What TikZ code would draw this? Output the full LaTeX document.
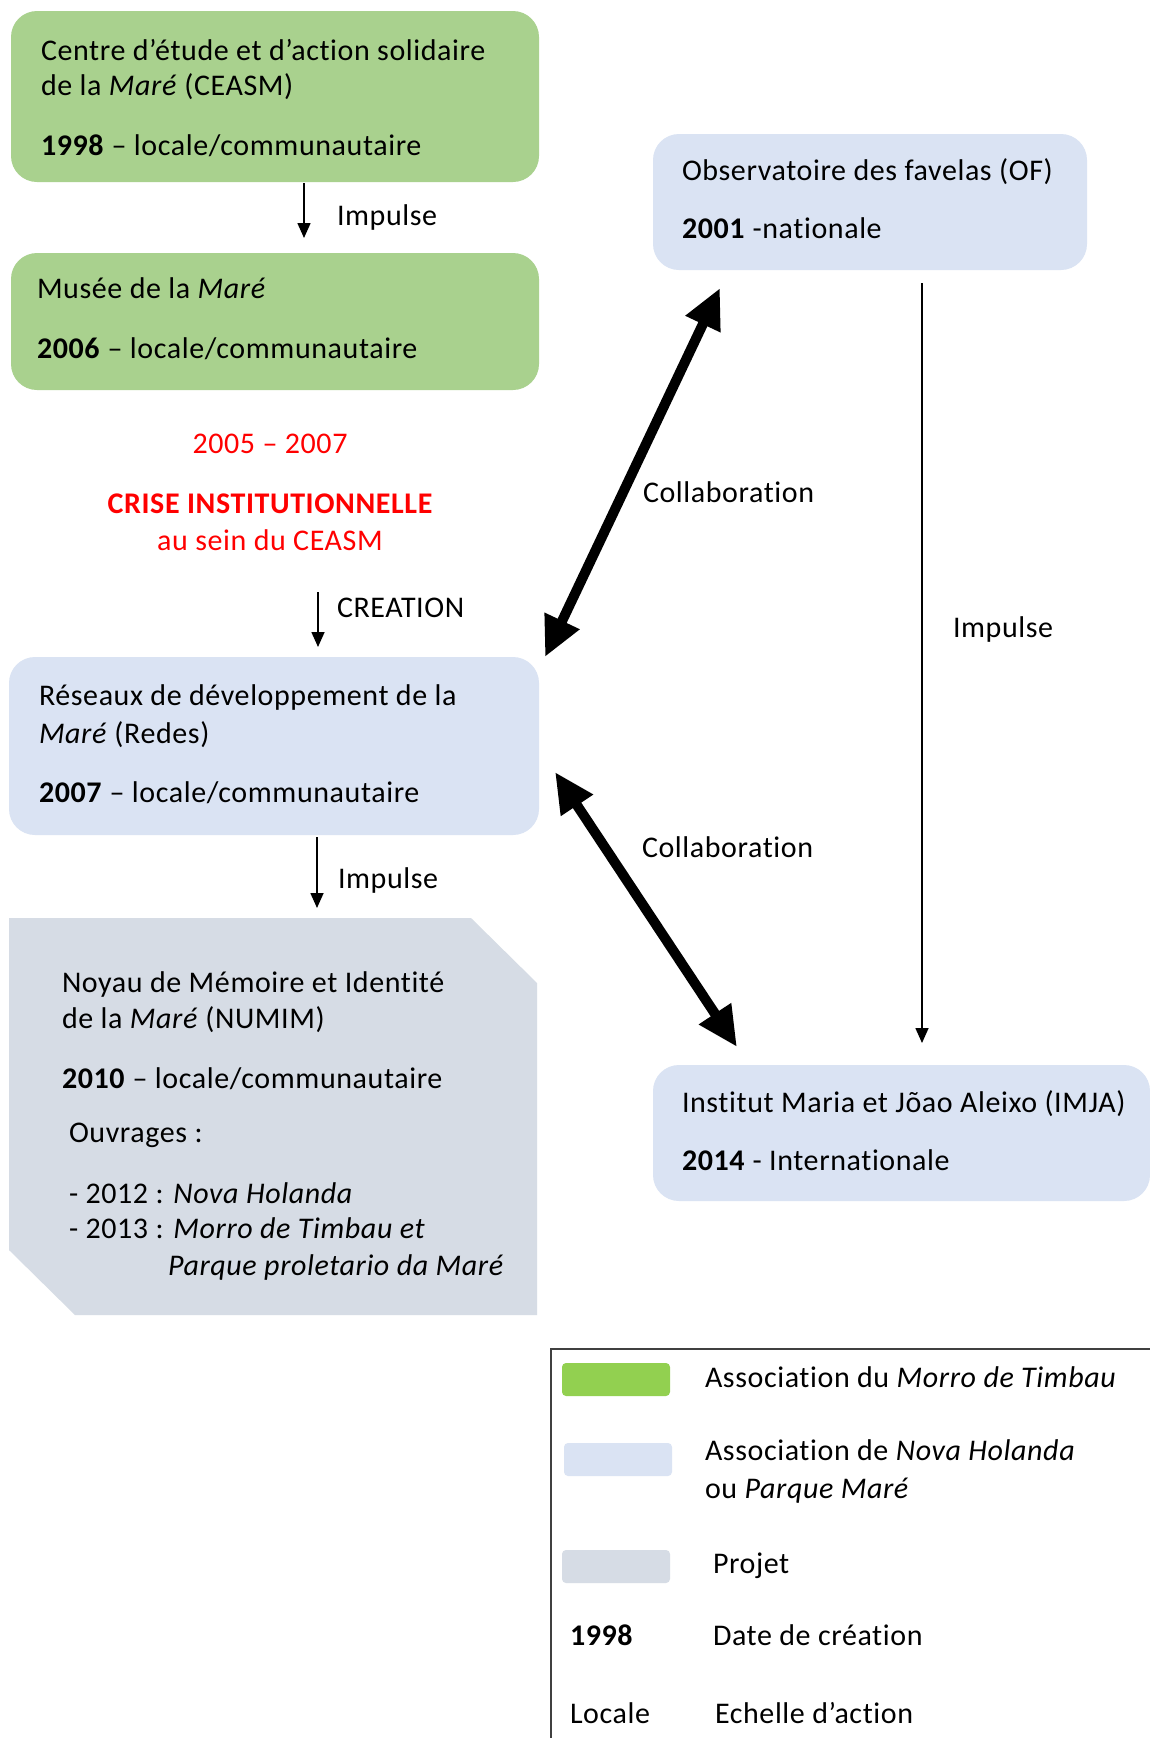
\documentclass[tikz,border=0pt]{standalone}
\usepackage{fontspec}
\setmainfont{Carlito}[LetterSpace=2, Ligatures=NoCommon]
\usetikzlibrary{arrows.meta,calc}
\definecolor{boxgreen}{HTML}{A9D18E}
\definecolor{boxblue}{HTML}{DAE3F3}
\definecolor{boxgray}{HTML}{D6DCE5}
\definecolor{swgreen}{HTML}{92D050}
\definecolor{legline}{HTML}{404040}
\tikzset{
  lbl/.style={font=\fontsize{30}{35}\selectfont, inner sep=0pt, outer sep=0pt},
  txt/.style={lbl, anchor=base west},
  redtxt/.style={lbl, anchor=base, text=red},
  boxbase/.style={inner sep=0pt, outer sep=0pt, anchor=north west, rounded corners=26pt},
  gbox/.style={boxbase, fill=boxgreen},
  bbox/.style={boxbase, fill=boxblue},
  swatch/.style={inner sep=0pt, outer sep=0pt, anchor=north west, rounded corners=4pt, minimum width=108pt, minimum height=33pt},
  thinarrow/.style={-{Triangle[length=15pt,width=13pt]}, line width=1.6pt},
  bigarrow/.style={{Triangle[length=40pt,width=36pt]}-{Triangle[length=40pt,width=36pt]}, line width=10pt},
}
\begin{document}
\begin{tikzpicture}[x=1pt,y=-1pt]
\useasboundingbox (0,0) rectangle (1150,1738);
\fill[white] (0,0) rectangle (1150,1738);

% boxes
\node[gbox, minimum width=528pt, minimum height=171pt] (ceasm) at (11,11) {};
\node[gbox, minimum width=528pt, minimum height=137pt] (musee) at (11,253) {};
\node[bbox, minimum width=530pt, minimum height=178pt] (redes) at (9,657) {};
\node[bbox, minimum width=434pt, minimum height=136pt] (of) at (653,134) {};
\node[bbox, minimum width=497pt, minimum height=136pt] (imja) at (653,1065) {};
\node[inner sep=0pt, outer sep=0pt, anchor=north west,
      minimum width=528pt, minimum height=397pt] (numim) at (9,918) {};
\fill[boxgray] (numim.north west) -- ($(numim.north east)+(-66,0)$)
  -- ($(numim.north east)+(0,65)$) -- (numim.south east)
  -- ($(numim.south west)+(66,0)$) -- ($(numim.south west)+(0,-65)$) -- cycle;

% CEASM text
\node[txt] (t1) at (41,60) {Centre d’étude et d’action solidaire};
\node[txt] (t2) at (41,95) {de la \textit{Maré} (CEASM)};
\node[txt] (t3) at (41,155) {\textbf{1998} – locale/communautaire};
% Musee text
\node[txt] (t4) at (37,298) {Musée de la \textit{Maré}};
\node[txt] (t5) at (37,358) {\textbf{2006} – locale/communautaire};
% crisis
\node[redtxt] (r1) at (270,453) {2005 – 2007};
\node[redtxt, font=\fontsize{30}{35}\selectfont\bfseries] (r2) at (270,513) {CRISE INSTITUTIONNELLE};
\node[redtxt] (r3) at (270,550) {au sein du CEASM};
% Redes text
\node[txt] (t6) at (39,705) {Réseaux de développement de la};
\node[txt] (t7) at (39,743) {\textit{Maré} (Redes)};
\node[txt] (t8) at (39,802) {\textbf{2007} – locale/communautaire};
% NUMIM text
\node[txt] (t9) at (62,992) {Noyau de Mémoire et Identité};
\node[txt] (t10) at (62,1028) {de la \textit{Maré} (NUMIM)};
\node[txt] (t11) at (62,1088) {\textbf{2010} – locale/communautaire};
\node[txt] (t12) at (69,1142) {Ouvrages :};
\node[txt] (t13) at (69,1203) {- 2012 : \textit{Nova Holanda}};
\node[txt] (t14) at (69,1238) {- 2013 : \textit{Morro de Timbau et}};
\node[txt] (t15) at (168,1275) {\textit{Parque proletario da Maré}};
% OF text
\node[txt] (t16) at (682,180) {Observatoire des favelas (OF)};
\node[txt] (t17) at (682,238) {\textbf{2001} -nationale};
% IMJA text
\node[txt] (t18) at (682,1112) {Institut Maria et Jõao Aleixo (IMJA)};
\node[txt] (t19) at (682,1170) {\textbf{2014} - Internationale};

% connector labels
\node[txt] (l1) at (337,225) {Impulse};
\node[txt] (l2) at (337,617) {CREATION};
\node[txt] (l3) at (338,888) {Impulse};
\node[txt] (l4) at (643,502) {Collaboration};
\node[txt] (l5) at (642,857) {Collaboration};
\node[txt] (l6) at (953,637) {Impulse};

% thin arrows
\draw[thinarrow] ($(ceasm.south west)+(293,1)$) -- ($(musee.north west)+(293,-15)$);
\draw[thinarrow] ($(redes.north west)+(309,-65)$) -- ($(redes.north west)+(309,-10)$);
\draw[thinarrow] ($(redes.south west)+(308,2)$) -- ($(numim.north west)+(308,-10)$);
\draw[thinarrow] ($(of.south west)+(269,13)$) -- ($(imja.north west)+(269,-22)$);

% thick collaboration arrows
\draw[bigarrow] ($(redes.north east)+(6,0)$) -- ($(of.south west)+(67,18)$);
\draw[bigarrow] ($(redes.east)+(16,26)$) -- ($(imja.north west)+(84,-18)$);

% legend
\node[draw=legline, line width=2pt, inner sep=0pt, anchor=north west,
      minimum width=640pt, minimum height=440pt] (legend) at (550,1348) {};
\node[swatch, fill=swgreen] (sw1) at (562,1363) {};
\node[swatch, fill=boxblue] (sw2) at (564,1443) {};
\node[swatch, fill=boxgray] (sw3) at (562,1550) {};
\node[txt] (g1) at (705,1387) {Association du \textit{Morro de Timbau}};
\node[txt] (g2) at (705,1460) {Association de \textit{Nova Holanda}};
\node[txt] (g3) at (705,1498) {ou \textit{Parque Maré}};
\node[txt] (g4) at (713,1573) {Projet};
\node[txt] (g5) at (570,1645) {\textbf{1998}};
\node[txt] (g6) at (713,1645) {Date de création};
\node[txt] (g7) at (570,1723) {Locale};
\node[txt] (g8) at (715,1723) {Echelle d’action};
\end{tikzpicture}
\end{document}
